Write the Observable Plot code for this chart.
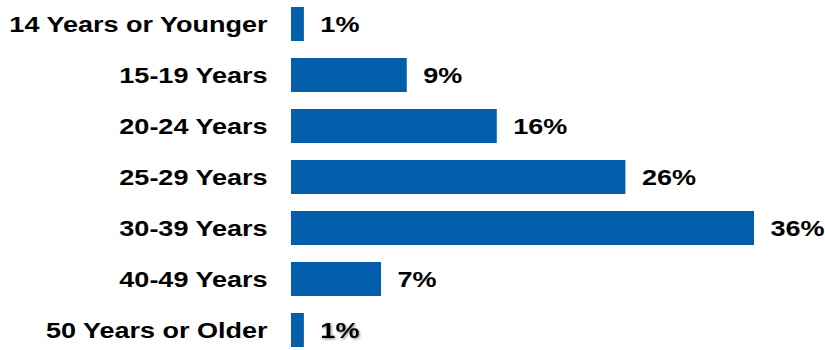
<!DOCTYPE html>
<html>
<head>
<meta charset="utf-8">
<script src="https://cdn.jsdelivr.net/npm/d3@7"></script>
<script src="https://cdn.jsdelivr.net/npm/@observablehq/plot@0.6"></script>
<style>
  html, body { margin: 0; padding: 0; background: #fff; }
  #chart svg { display: block; }
</style>
</head>
<body>
<div id="chart"></div>
<script>
const categories = ["14 Years or Younger", "15-19 Years", "20-24 Years", "25-29 Years", "30-39 Years", "40-49 Years", "50 Years or Older"];
const percents = [1, 9, 16, 26, 36, 7, 1];
const valueLabels = ["1%", "9%", "16%", "26%", "36%", "7%", "1%"];

const data = categories.map((c, i) => ({category: c, value: percents[i], label: valueLabels[i]}));

const BLUE = "#035EAB";
const FONT = "'Liberation Sans', Arial, Helvetica, sans-serif";

const chart = Plot.plot({
  width: 825,
  height: 350,
  marginLeft: 291,
  marginRight: 71,
  marginTop: 5,
  marginBottom: 1,
  style: {fontFamily: FONT, background: "#fff", color: "#000"},
  x: {domain: [0, 36], axis: null},
  y: {domain: categories, paddingInner: 0.34, paddingOuter: 0, label: null},
  marks: [
    Plot.barX(data, {y: "category", x: "value", fill: BLUE}),
    Plot.axisY({tickSize: 0, tickPadding: 24, fontSize: 22.5, fontWeight: "bold", fill: "#000", label: null}),
    Plot.text(data, {y: "category", x: "value", text: "label", textAnchor: "start", dx: 16, fontSize: 22.5, fontWeight: "bold", fill: "#000"})
  ]
});

// soft shadow on the last value label, as in the reference
const defs = d3.select(chart).insert("defs", ":first-child");
const f = defs.append("filter").attr("id", "lblshadow").attr("x", "-20%").attr("y", "-20%").attr("width", "150%").attr("height", "150%");
f.append("feDropShadow").attr("dx", 1.2).attr("dy", 1.2).attr("stdDeviation", 0.9).attr("flood-color", "#000").attr("flood-opacity", 0.45);
const valueTexts = d3.select(chart).selectAll("g[aria-label='text'] text").nodes();
if (valueTexts.length) d3.select(valueTexts[valueTexts.length - 1]).attr("filter", "url(#lblshadow)");

document.getElementById("chart").appendChild(chart);

// horizontally stretch glyphs (reference font is wider than the available fonts)
const SX = 1.2;
d3.select(chart).selectAll("text").each(function() {
  const w = this.getComputedTextLength();
  if (w > 0) {
    this.setAttribute("textLength", (w * SX).toFixed(2));
    this.setAttribute("lengthAdjust", "spacingAndGlyphs");
  }
});
</script>
</body>
</html>
